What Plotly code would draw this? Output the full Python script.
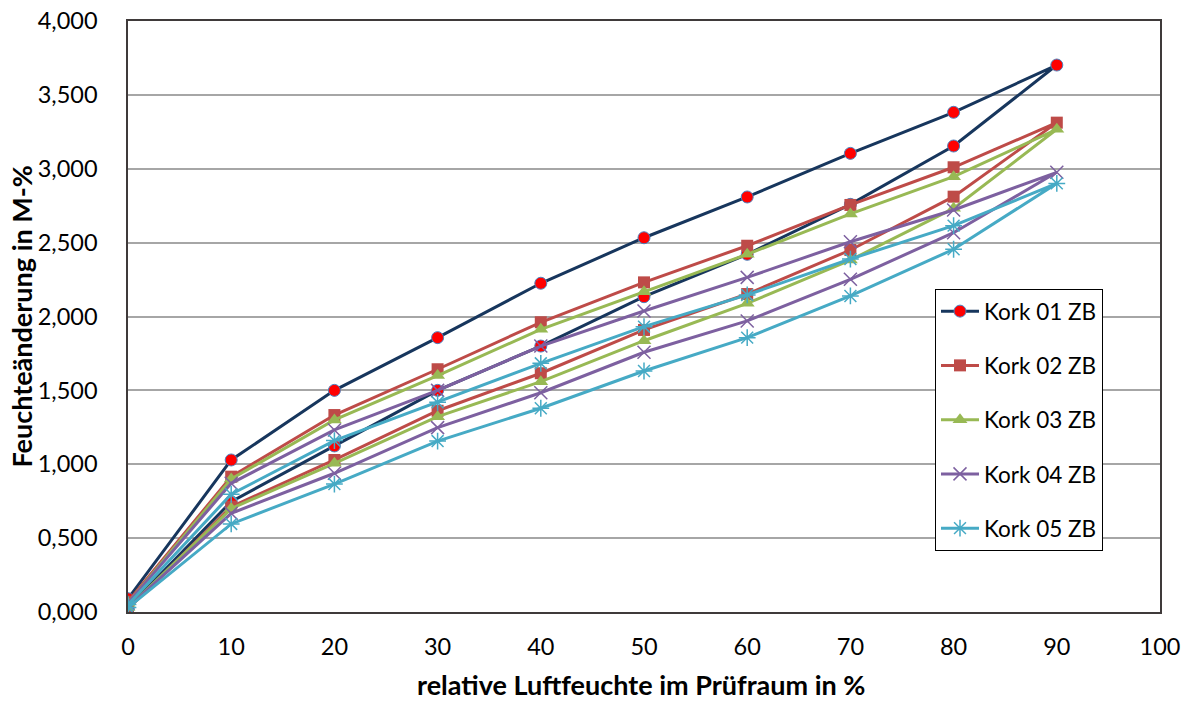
import plotly.graph_objects as go

# relative humidity steps: adsorption 0 -> 90, then desorption 90 -> 0
rh_steps = [0, 10, 20, 30, 40, 50, 60, 70, 80, 90, 80, 70, 60, 50, 40, 30, 20, 10, 0]

# moisture change in M-% along the cycle (adsorption branch followed by desorption branch)
kork_01 = [0.03, 0.747, 1.124, 1.50, 1.80, 2.134, 2.421, 2.759, 3.154, 3.702,
           3.382, 3.104, 2.809, 2.533, 2.225, 1.857, 1.50, 1.029, 0.09]
kork_02 = [0.02, 0.713, 1.029, 1.362, 1.616, 1.909, 2.152, 2.45, 2.811, 3.312,
           3.01, 2.755, 2.479, 2.231, 1.961, 1.643, 1.333, 0.916, 0.07]
kork_03 = [0.03, 0.70, 1.006, 1.322, 1.559, 1.836, 2.089, 2.382, 2.732, 3.267,
           2.946, 2.694, 2.421, 2.168, 1.913, 1.60, 1.30, 0.90, 0.06]
kork_04 = [0.03, 0.668, 0.939, 1.248, 1.484, 1.758, 1.97, 2.252, 2.567, 2.976,
           2.721, 2.506, 2.265, 2.037, 1.80, 1.50, 1.232, 0.871, 0.06]
kork_05 = [0.03, 0.596, 0.866, 1.157, 1.379, 1.631, 1.857, 2.139, 2.455, 2.901,
           2.615, 2.389, 2.146, 1.931, 1.683, 1.419, 1.16, 0.797, 0.05]

series_names = ["Kork 01 ZB", "Kork 02 ZB", "Kork 03 ZB", "Kork 04 ZB", "Kork 05 ZB"]
series_values = [kork_01, kork_02, kork_03, kork_04, kork_05]

y_ticks = [0, 0.5, 1.0, 1.5, 2.0, 2.5, 3.0, 3.5, 4.0]
x_ticks = [0, 10, 20, 30, 40, 50, 60, 70, 80, 90, 100]

x_title = "relative Luftfeuchte im Prüfraum in %"
y_title = "Feuchteänderung in M-%"

styles = [
    dict(line="#17365D", marker=dict(symbol="circle", size=12, color="#FF0000",
                                     line=dict(color="#4F81BD", width=1))),
    dict(line="#BE4B48", marker=dict(symbol="square", size=12, color="#BE4B48",
                                     line=dict(color="#BE4B48", width=0))),
    dict(line="#98B954", marker=dict(symbol="triangle-up", size=13, color="#98B954",
                                     line=dict(color="#98B954", width=0))),
    dict(line="#7D60A0", marker=dict(symbol="x-thin-open", size=13, color="#7D60A0",
                                     line=dict(color="#7D60A0", width=1.5))),
    dict(line="#46AAC5", marker=dict(symbol="asterisk-open", size=14, color="#46AAC5",
                                     line=dict(color="#46AAC5", width=1.5))),
]

font_family = "Lato, 'Open Sans', sans-serif"

# plot area in pixels: x 128..1160, y 21..612
PL, PR, PT, PB = 128, 1160, 21, 612
PW, PH = PR - PL, PB - PT

fig = go.Figure()
for i, (name, vals, st) in enumerate(zip(series_names, series_values, styles)):
    fig.add_trace(go.Scatter(
        x=rh_steps, y=vals, name=name, mode="lines+markers",
        line=dict(color=st["line"], width=3),
        marker=st["marker"],
        legendgroup=f"g{i}",
    ))

fig.update_layout(
    width=1183, height=702,
    margin=dict(l=PL, r=1183 - PR, t=PT, b=702 - PB, autoexpand=False),
    paper_bgcolor="white", plot_bgcolor="white",
    separators=",.",
    font=dict(family=font_family, size=23, color="#000000"),
    showlegend=True,
    legend=dict(
        xref="paper", yref="paper",
        x=(935 - PL) / PW, y=(PB - 289) / PH, xanchor="left", yanchor="top",
        bordercolor="#000000", borderwidth=1, bgcolor="white",
        font=dict(family=font_family, size=22.5, color="#000000"),
        tracegroupgap=22, itemwidth=38,
    ),
    xaxis=dict(
        range=[0, 100], tickvals=x_ticks, ticktext=[str(v) for v in x_ticks],
        showgrid=False, zeroline=False, automargin=False,
        showline=True, linecolor="#3F3A3A", linewidth=1.5, mirror=True,
        ticks="", ticklabelstandoff=13,
        tickfont=dict(size=23.5),
    ),
    yaxis=dict(
        range=[0, 4], tickvals=y_ticks, tickformat=".3f",
        showgrid=True, gridcolor="#A6A6A6", gridwidth=1.5, zeroline=False,
        automargin=False,
        showline=True, linecolor="#3F3A3A", linewidth=1.5, mirror=True,
        ticks="", ticklabelstandoff=24,
        tickfont=dict(size=23.5),
    ),
    annotations=[
        dict(text=f"<b>{x_title}</b>", xref="paper", yref="paper",
             x=(641 - PL) / PW, y=(PB - 684) / PH, xanchor="center", yanchor="middle",
             showarrow=False, font=dict(family=font_family, size=27)),
        dict(text=f"<b>{y_title}</b>", xref="paper", yref="paper",
             x=(21 - PL) / PW, y=0.5, xanchor="center", yanchor="middle",
             textangle=-90, showarrow=False, font=dict(family=font_family, size=27)),
    ],
)

fig.write_html("out.html")
